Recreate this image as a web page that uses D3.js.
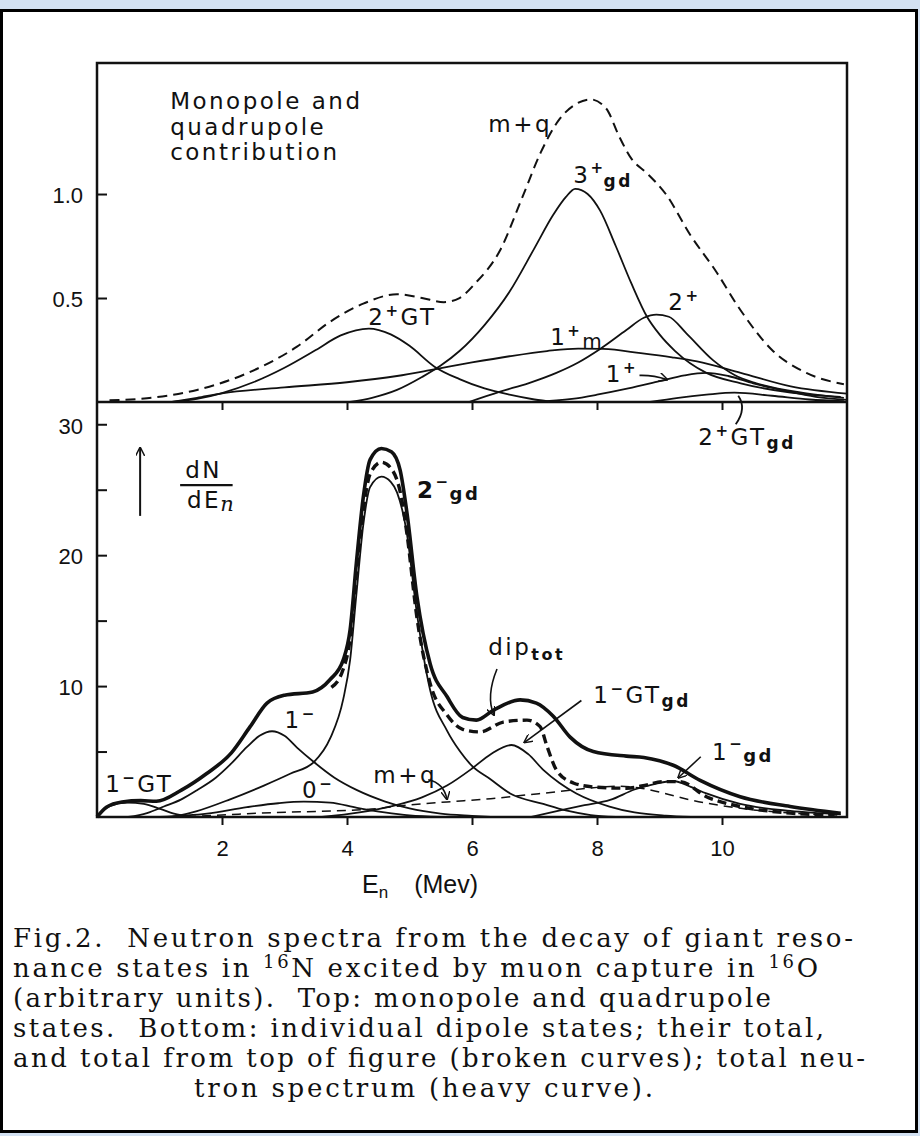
<!DOCTYPE html>
<html>
<head>
<meta charset="utf-8">
<script src="https://cdn.jsdelivr.net/npm/d3@7"></script>
<style>
  body { margin: 0; background: #d3e1f2; }
  .lbl { font-family: "DejaVu Sans", sans-serif; font-size: 23px; letter-spacing: 2.5px; fill: #111; }
  .tick text { font-family: "Liberation Sans Narrow", "Liberation Sans", sans-serif; font-size: 22px; fill: #111; }
  .caption { font-family: "DejaVu Serif", serif; font-size: 26px; fill: #111; }
</style>
</head>
<body>
<div id="chart"></div>
<script>
// x axis (neutron energy, MeV)
const energyTicks = [2, 4, 6, 8, 10];
// top panel ticks
const topTicks = [0.5, 1.0];
const topTickLabels = ["0.5", "1.0"];
// bottom panel ticks, labelled every 10
const bottomTicks = [5, 10, 15, 20, 25, 30];
const bottomTickLabels = ["", "10", "", "20", "", "30"];

// ---- top panel: monopole and quadrupole states [E, dN/dE]
const top2GT = [[1.2,0],[1.6,0.015],[2.0,0.043],[2.5,0.095],[3.0,0.165],[3.5,0.25],[3.9,0.32],[4.35,0.353],[4.7,0.325],[5.0,0.27],[5.4,0.17],[5.8,0.11],[6.2,0.065],[6.6,0.035],[7.0,0.012],[7.3,0]];
const top1m = [[1.2,0],[1.6,0.02],[2.0,0.042],[3.0,0.07],[4.0,0.095],[4.8,0.125],[5.4,0.157],[6.0,0.19],[6.6,0.22],[7.2,0.245],[7.7,0.257],[8.1,0.255],[8.7,0.235],[9.2,0.215],[9.6,0.195],[10.3,0.14],[11.1,0.075],[12,0.04]];
const top3gd = [[4.05,0],[4.4,0.02],[4.8,0.058],[5.2,0.12],[5.5,0.175],[5.8,0.245],[6.2,0.37],[6.6,0.53],[7.0,0.74],[7.3,0.9],[7.5,0.985],[7.65,1.025],[7.85,1.0],[8.05,0.92],[8.3,0.75],[8.55,0.57],[8.8,0.41],[9.0,0.325],[9.25,0.245],[9.75,0.14],[10.3,0.09],[11.1,0.045],[11.9,0.025]];
const top2p = [[5.95,0],[6.45,0.05],[6.9,0.09],[7.35,0.14],[7.7,0.19],[8.05,0.255],[8.47,0.346],[8.75,0.405],[8.95,0.42],[9.15,0.41],[9.43,0.33],[9.86,0.2],[10.2,0.13],[10.55,0.09],[11.35,0.042],[11.95,0.02]];
const top1p = [[7.0,0],[7.6,0.015],[8.0,0.035],[8.5,0.065],[9.0,0.1],[9.4,0.128],[9.75,0.14],[10.1,0.125],[10.5,0.09],[11.0,0.055],[11.5,0.025],[12,0.01]];
const top2GTgd = [[8.85,0],[9.3,0.02],[9.75,0.035],[10.2,0.045],[10.8,0.03],[11.4,0.012],[11.95,0.004]];
const topMQ = [[0.2,0.008],[0.8,0.018],[1.6,0.058],[2.4,0.138],[3.2,0.266],[3.73,0.386],[4.27,0.474],[4.8,0.518],[5.2,0.5],[5.55,0.48],[5.8,0.5],[6.05,0.57],[6.45,0.73],[6.8,0.98],[7.1,1.2],[7.4,1.36],[7.65,1.43],[7.9,1.455],[8.15,1.41],[8.35,1.28],[8.55,1.17],[8.8,1.1],[9.1,1.0],[9.5,0.8],[9.9,0.63],[10.3,0.44],[10.8,0.25],[11.35,0.14],[11.95,0.085]];

// ---- bottom panel: dipole states and totals [E, dN/dE]
const botTotal = [[0,0],[0.15,0.75],[0.4,1.15],[0.7,1.25],[0.95,1.2],[1.35,2.05],[1.75,3.3],[2.15,4.9],[2.45,6.9],[2.72,8.7],[3.0,9.3],[3.45,9.55],[3.73,10.5],[3.94,12.0],[4.05,14.3],[4.15,19.4],[4.26,24.4],[4.37,27.3],[4.55,28.15],[4.71,27.9],[4.85,26.5],[4.96,23.2],[5.12,16.8],[5.33,11.7],[5.6,9.2],[5.85,7.6],[6.07,7.4],[6.34,8.15],[6.77,8.95],[7.03,8.7],[7.3,7.7],[7.57,6.1],[7.94,5.0],[8.47,4.65],[8.75,4.55],[9.0,4.3],[9.22,3.95],[9.65,2.8],[10.29,1.55],[11.09,0.8],[11.9,0.28]];
const botDip = [[3.75,9.9],[3.94,11.3],[4.05,13.6],[4.15,18.6],[4.26,23.4],[4.37,26.2],[4.55,27.1],[4.71,26.6],[4.87,24.4],[4.96,21.6],[5.12,15.2],[5.33,10.2],[5.6,7.8],[5.85,6.7],[6.13,6.5],[6.5,7.25],[6.88,7.4],[7.09,6.9],[7.2,5.4],[7.35,3.6],[7.62,2.6],[7.94,2.3],[8.47,2.2],[8.8,2.45],[9.05,2.7],[9.33,2.7],[9.75,1.55],[10.29,0.8],[11.09,0.3],[11.8,0.12]];
const botMQ = [[1.2,0],[2.0,0.15],[2.6,0.3],[3.3,0.4],[4.0,0.5],[4.5,0.65],[4.95,0.9],[5.6,1.15],[6.3,1.4],[6.9,1.7],[7.4,1.95],[7.85,2.2],[8.35,2.35],[8.7,2.2],[9.0,1.9],[9.5,1.3],[10.3,0.66],[11.1,0.3],[11.9,0.15]];
const bot2gd = [[1.2,0],[1.6,0.45],[2.13,1.35],[2.67,2.4],[3.09,3.3],[3.47,4.2],[3.73,6.0],[3.94,9.0],[4.05,12.0],[4.15,17.0],[4.26,22.3],[4.37,25.2],[4.55,26.0],[4.7,25.6],[4.8,24.8],[4.95,21.9],[5.12,15.5],[5.33,9.7],[5.6,6.6],[5.81,5.0],[6.0,3.9],[6.29,2.9],[6.61,1.8],[7.14,1.0],[7.5,0.5],[7.9,0.15],[8.3,0]];
const bot1m = [[0.5,0],[0.8,0.3],[1.07,0.8],[1.35,1.35],[1.6,2.05],[1.9,3.0],[2.13,4.0],[2.4,5.35],[2.6,6.2],[2.8,6.55],[3.0,6.2],[3.2,5.3],[3.47,4.2],[3.8,3.0],[4.16,2.05],[4.6,1.2],[5.0,0.65],[5.5,0.25],[6.0,0.08],[6.3,0]];
const bot0m = [[1.0,0],[1.76,0.25],[2.4,0.75],[2.9,1.05],[3.31,1.17],[3.73,1.1],[4.16,0.7],[4.6,0.35],[5.0,0.12],[5.5,0]];
const bot1GT = [[0,0],[0.21,0.85],[0.48,1.1],[0.75,1.0],[1.01,0.62],[1.23,0.25],[1.5,0]];
const bot1GTgd = [[3.6,0],[4.2,0.35],[4.74,0.85],[5.2,1.5],[5.6,2.4],[6.0,3.7],[6.3,4.8],[6.63,5.5],[6.9,4.8],[7.14,3.6],[7.4,2.6],[7.67,1.8],[8.2,0.8],[8.6,0.35],[9.1,0.1],[9.5,0]];
const bot1gd = [[6.95,0],[7.41,0.5],[7.8,0.9],[8.21,1.3],[8.6,2.1],[8.9,2.5],[9.22,2.75],[9.5,2.3],[9.75,1.8],[10.29,1.0],[11.09,0.46],[11.9,0.2]];

const W = 920, H = 1136;

const svg = d3.select("#chart")
  .append("svg")
  .attr("width", W)
  .attr("height", H);

// page and outer frame
svg.append("rect").attr("width", W).attr("height", H).attr("fill", "#d3e1f2");
svg.append("rect")
  .attr("x", 1.5).attr("y", 10.5)
  .attr("width", 915).attr("height", 1121)
  .attr("fill", "#fff")
  .attr("stroke", "#000")
  .attr("stroke-width", 3);

svg.append("defs").append("marker")
  .attr("id", "arr")
  .attr("viewBox", "0 0 10 10")
  .attr("refX", 9).attr("refY", 5)
  .attr("markerWidth", 9).attr("markerHeight", 9)
  .attr("markerUnits", "userSpaceOnUse")
  .attr("orient", "auto")
  .append("path")
  .attr("d", "M0,0 L10,5 L0,10")
  .attr("fill", "none")
  .attr("stroke", "#111")
  .attr("stroke-width", 1.6);

// scales
const x = d3.scaleLinear().domain([0, 12]).range([97, 847]);
const yTop = d3.scaleLinear().domain([0, 1.63]).range([402, 63]);
const yBot = d3.scaleLinear().domain([0, 31.7]).range([817, 402]);

// axes
const gTopX = svg.append("g")
  .attr("transform", "translate(0,402)")
  .call(d3.axisBottom(x).tickValues(energyTicks).tickSize(8).tickSizeOuter(0).tickFormat(""));
const gBotX = svg.append("g")
  .attr("transform", "translate(0,817)")
  .call(d3.axisBottom(x).tickValues(energyTicks).tickSize(8).tickSizeOuter(0).tickPadding(15));
const gTopY = svg.append("g")
  .attr("transform", "translate(97,0)")
  .call(d3.axisLeft(yTop).tickValues(topTicks).tickSize(-10).tickSizeOuter(0).tickPadding(14)
    .tickFormat((d, i) => topTickLabels[i]));
const gBotY = svg.append("g")
  .attr("transform", "translate(97,0)")
  .call(d3.axisLeft(yBot).tickValues(bottomTicks).tickSize(-10).tickSizeOuter(0).tickPadding(14)
    .tickFormat((d, i) => bottomTickLabels[i]));

[gTopX, gBotX, gTopY, gBotY].forEach(g => {
  g.select(".domain").remove();
  g.selectAll(".tick line").attr("stroke", "#111").attr("stroke-width", 2);
});
gTopY.selectAll(".tick text").attr("dy", "0.4em");
gBotY.selectAll(".tick text").attr("dy", "0.4em");

// plot frames
const frame = svg.append("g").attr("stroke", "#111").attr("stroke-width", 2.5).attr("fill", "none");
frame.append("rect")
  .attr("x", x(0)).attr("y", yTop(1.63))
  .attr("width", x(12) - x(0)).attr("height", yBot(0) - yTop(1.63));
frame.append("line")
  .attr("x1", x(0)).attr("x2", x(12))
  .attr("y1", yTop(0)).attr("y2", yTop(0));

// curves
function curve(data, ys, width, dash) {
  svg.append("path")
    .datum(data)
    .attr("fill", "none")
    .attr("stroke", "#111")
    .attr("stroke-width", width)
    .attr("stroke-dasharray", dash || null)
    .attr("stroke-linejoin", "round")
    .attr("d", d3.line().x(d => x(d[0])).y(d => ys(d[1])).curve(d3.curveMonotoneX));
}

curve(top2GT, yTop, 1.8);
curve(top1m, yTop, 1.8);
curve(top3gd, yTop, 1.8);
curve(top2p, yTop, 1.8);
curve(top1p, yTop, 1.8);
curve(top2GTgd, yTop, 1.8);
curve(topMQ, yTop, 2, "10 6");

curve(bot1GT, yBot, 1.8);
curve(bot1m, yBot, 1.8);
curve(bot0m, yBot, 1.8);
curve(bot2gd, yBot, 1.8);
curve(bot1GTgd, yBot, 1.8);
curve(bot1gd, yBot, 1.8);
curve(botMQ, yBot, 1.5, "9 6");
curve(botDip, yBot, 3.4, "9 5");
curve(botTotal, yBot, 3.6);

// labels built from tspans
function label(px, py, parts) {
  const t = svg.append("text").attr("class", "lbl").attr("x", px).attr("y", py);
  parts.forEach(p => {
    const s = t.append("tspan").text(p.t);
    if (p.dx) s.attr("dx", p.dx);
    if (p.dy) s.attr("dy", p.dy);
    if (p.s) s.attr("font-size", p.s);
    if (p.w) s.attr("font-weight", p.w);
  });
  return t;
}

// top panel text
label(x(1.17), yTop(1.41), [{t: "Monopole and"}]).attr("font-size", 22).attr("letter-spacing", 3.4);
label(x(1.17), yTop(1.285), [{t: "quadrupole"}]).attr("font-size", 22).attr("letter-spacing", 3.4);
label(x(1.17), yTop(1.165), [{t: "contribution"}]).attr("font-size", 22).attr("letter-spacing", 3.4);
label(x(6.26), yTop(1.30), [{t: "m+q"}]);
label(x(7.62), yTop(1.053), [{t: "3"}, {t: "+", dy: -10, s: 15, w: "bold"}, {t: "gd", dx: -2, dy: 14, s: 17, w: "bold"}]).attr("letter-spacing", 1);
label(x(4.34), yTop(0.37), [{t: "2"}, {t: "+", dy: -9, s: 15, w: "bold"}, {t: "GT", dy: 9}]);
label(x(9.14), yTop(0.442), [{t: "2"}, {t: "+", dy: -9, s: 15, w: "bold"}]);
label(x(7.25), yTop(0.274), [{t: "1"}, {t: "+", dy: -9, s: 15, w: "bold"}, {t: "m", dy: 12, s: 20}]);
label(x(8.14), yTop(0.096), [{t: "1"}, {t: "+", dy: -9, s: 15, w: "bold"}]);
svg.append("path")
  .attr("d", `M${x(8.68)},${yTop(0.128)} Q${x(8.9)},${yTop(0.13)} ${x(9.12)},${yTop(0.108)}`)
  .attr("fill", "none").attr("stroke", "#111").attr("stroke-width", 1.6)
  .attr("marker-end", "url(#arr)");

// 2+GTgd label sits just under the top panel with a bracket
label(x(9.62), yBot(28.4), [{t: "2"}, {t: "+", dy: -9, s: 15, w: "bold"}, {t: "GT", dy: 9}, {t: "gd", dy: 4, s: 17, w: "bold"}]);
svg.append("path")
  .attr("d", `M${x(10.26)},${yTop(0.03)} Q${x(10.4)},${yBot(31.2)} ${x(10.22)},${yBot(30.0)}`)
  .attr("fill", "none").attr("stroke", "#111").attr("stroke-width", 1.8);

// bottom panel text
svg.append("path")
  .attr("d", `M${x(0.69)},${yBot(23.0)} L${x(0.69)},${yBot(28.2)}`)
  .attr("stroke", "#111").attr("stroke-width", 2).attr("marker-end", "url(#arr)");
label(x(1.41), yBot(25.9), [{t: "dN"}]).attr("font-size", 22);
svg.append("line")
  .attr("x1", x(1.33)).attr("x2", x(2.17))
  .attr("y1", yBot(25.35)).attr("y2", yBot(25.35))
  .attr("stroke", "#111").attr("stroke-width", 2.2);
label(x(1.44), yBot(23.6), [{t: "dE"}, {t: "n", s: 21, dx: -1, dy: 3}]).attr("font-size", 22)
  .select("tspan:last-child").attr("font-style", "italic").attr("font-family", "DejaVu Serif");
label(x(5.12), yBot(24.35), [{t: "2", w: "bold"}, {t: "−", dy: -11, s: 15, w: "bold"}, {t: "gd", dx: -1, dy: 13, s: 18, w: "bold"}]).attr("letter-spacing", 1);
label(x(6.26), yBot(12.37), [{t: "dip"}, {t: "tot", dy: 5, s: 16, w: "bold"}]);
svg.append("path")
  .attr("d", `M${x(6.4)},${yBot(11.3)} Q${x(6.22)},${yBot(9.2)} ${x(6.35)},${yBot(7.8)}`)
  .attr("fill", "none").attr("stroke", "#111").attr("stroke-width", 1.6)
  .attr("marker-end", "url(#arr)");
label(x(7.94), yBot(8.7), [{t: "1"}, {t: "−", dy: -9, s: 15, w: "bold"}, {t: "GT", dy: 9}, {t: "gd", dy: 4, s: 17, w: "bold"}]);
svg.append("path")
  .attr("d", `M${x(7.75)},${yBot(8.9)} L${x(6.84)},${yBot(5.7)}`)
  .attr("stroke", "#111").attr("stroke-width", 1.6).attr("marker-end", "url(#arr)");
label(x(9.84), yBot(4.35), [{t: "1"}, {t: "−", dy: -11, s: 15, w: "bold"}, {t: "gd", dx: -1, dy: 13, s: 18, w: "bold"}]).attr("letter-spacing", 1);
svg.append("path")
  .attr("d", `M${x(9.66)},${yBot(4.6)} L${x(9.3)},${yBot(3.0)}`)
  .attr("stroke", "#111").attr("stroke-width", 1.6).attr("marker-end", "url(#arr)");
label(x(3.0), yBot(6.8), [{t: "1"}, {t: "−", dy: -9, s: 15, w: "bold"}]);
label(x(0.13), yBot(1.9), [{t: "1"}, {t: "−", dy: -9, s: 15, w: "bold"}, {t: "GT", dy: 9}]);
label(x(3.28), yBot(1.45), [{t: "0"}, {t: "−", dy: -9, s: 15, w: "bold"}]);
label(x(4.42), yBot(2.6), [{t: "m+q"}]).attr("font-size", 22);
svg.append("path")
  .attr("d", `M${x(5.3)},${yBot(2.85)} Q${x(5.55)},${yBot(2.6)} ${x(5.6)},${yBot(1.35)}`)
  .attr("fill", "none").attr("stroke", "#111").attr("stroke-width", 1.6)
  .attr("marker-end", "url(#arr)");

// x axis title
const xt = svg.append("text")
  .attr("x", 362).attr("y", 893)
  .attr("font-family", "Liberation Sans Narrow, Liberation Sans, sans-serif")
  .attr("font-size", 25).attr("fill", "#111");
xt.append("tspan").text("E");
xt.append("tspan").attr("font-size", 17).attr("dy", 5).text("n");
xt.append("tspan").attr("dx", 26).attr("dy", -5).text("(Mev)");

// caption
const captionLines = [
  {x: 13, w: 840, parts: [{t: "Fig.2.  Neutron spectra from the decay of giant reso-"}]},
  {x: 13, w: 805, parts: [{t: "nance states in "}, {t: "16", sup: true}, {t: "N excited by muon capture in "}, {t: "16", sup: true}, {t: "O"}]},
  {x: 13, w: 758, parts: [{t: "(arbitrary units).  Top: monopole and quadrupole"}]},
  {x: 13, w: 811, parts: [{t: "states.  Bottom: individual dipole states; their total,"}]},
  {x: 13, w: 852, parts: [{t: "and total from top of figure (broken curves); total neu-"}]},
  {x: 194, w: 459, parts: [{t: "tron spectrum (heavy curve)."}]}
];
captionLines.forEach((ln, i) => {
  const t = svg.append("text")
    .attr("class", "caption")
    .attr("x", ln.x)
    .attr("y", 947 + i * 30)
    .attr("textLength", ln.w)
    .attr("xml:space", "preserve");
  let up = false;
  ln.parts.forEach(p => {
    const s = t.append("tspan").text(p.t);
    if (p.sup) { s.attr("font-size", 18).attr("dy", -9); up = true; }
    else if (up) { s.attr("dy", 9); up = false; }
  });
});
</script>
</body>
</html>
